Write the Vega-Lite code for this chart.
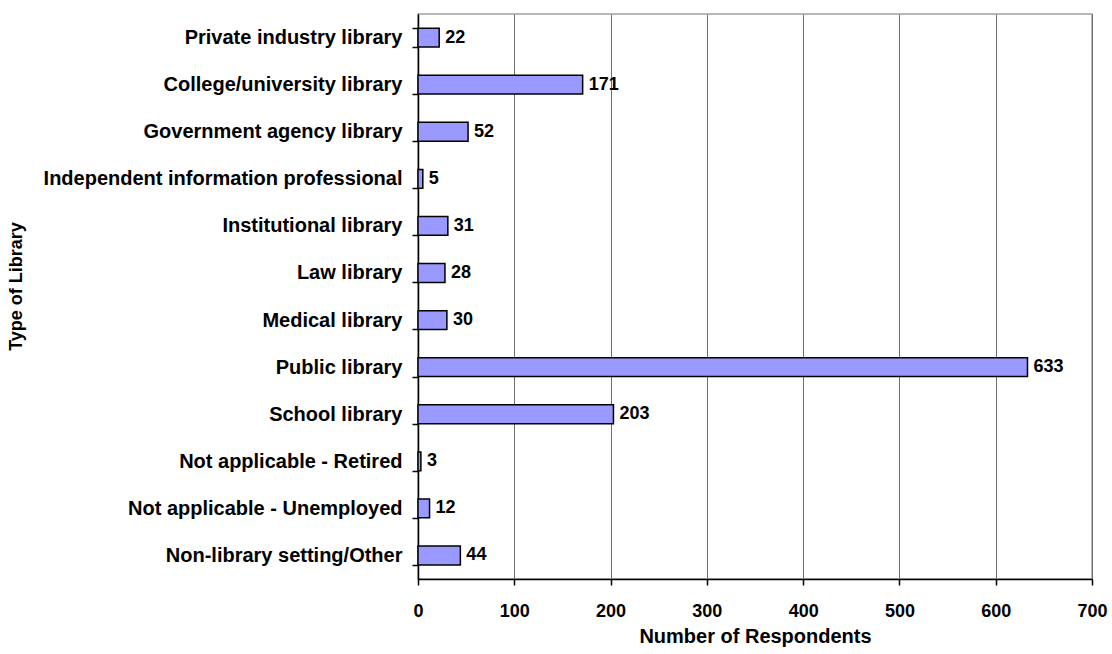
{
  "$schema": "https://vega.github.io/schema/vega-lite/v6.json",
  "autosize": "none",
  "width": 674,
  "height": 565,
  "padding": {"left": 418, "top": 14, "right": 20, "bottom": 75},
  "background": "white",
  "config": {
    "view": {"stroke": "#a0a0a0", "strokeWidth": 1.5},
    "font": "Liberation Sans"
  },
  "data": {
    "values": [
      {"type": "Private industry library", "count": 22},
      {"type": "College/university library", "count": 171},
      {"type": "Government agency library", "count": 52},
      {"type": "Independent information professional", "count": 5},
      {"type": "Institutional library", "count": 31},
      {"type": "Law library", "count": 28},
      {"type": "Medical library", "count": 30},
      {"type": "Public library", "count": 633},
      {"type": "School library", "count": 203},
      {"type": "Not applicable - Retired", "count": 3},
      {"type": "Not applicable - Unemployed", "count": 12},
      {"type": "Non-library setting/Other", "count": 44}
    ]
  },
  "encoding": {
    "y": {
      "field": "type",
      "type": "nominal",
      "sort": null,
      "scale": {"paddingInner": 0.6, "paddingOuter": 0.3},
      "axis": {
        "title": "Type of Library",
        "titleFont": "Liberation Sans",
        "titleFontSize": 18,
        "titleFontWeight": "bold",
        "titleColor": "black",
        "titleX": -393,
        "titleY": 272,
        "labelFont": "Liberation Sans",
        "labelFontSize": 20,
        "labelFontWeight": "bold",
        "labelColor": "black",
        "labelPadding": 10,
        "labelLimit": 500,
        "tickBand": "extent",
        "tickSize": 6,
        "tickColor": "black",
        "tickWidth": 1.5,
        "domainColor": "black",
        "domainWidth": 1.5,
        "grid": false
      }
    },
    "x": {
      "field": "count",
      "type": "quantitative",
      "scale": {"domain": [0, 700], "nice": false},
      "axis": {
        "title": "Number of Respondents",
        "titleFont": "Liberation Sans",
        "titleFontSize": 20,
        "titleFontWeight": "bold",
        "titleColor": "black",
        "titlePadding": 6,
        "values": [0, 100, 200, 300, 400, 500, 600, 700],
        "labelFont": "Liberation Sans",
        "labelFontSize": 18,
        "labelFontWeight": "bold",
        "labelColor": "black",
        "labelPadding": 17,
        "labelFlush": false,
        "tickSize": 6,
        "tickColor": "black",
        "tickWidth": 1.5,
        "domainColor": "black",
        "domainWidth": 1.5,
        "grid": true,
        "gridColor": "#707070",
        "gridWidth": 1
      }
    }
  },
  "layer": [
    {
      "mark": {"type": "bar", "fill": "#9999ff", "stroke": "black", "strokeWidth": 1.5}
    },
    {
      "mark": {
        "type": "text",
        "align": "left",
        "baseline": "middle",
        "dx": 6,
        "font": "Liberation Sans",
        "fontSize": 18,
        "fontWeight": "bold",
        "color": "black"
      },
      "encoding": {"text": {"field": "count", "type": "quantitative"}}
    }
  ]
}
